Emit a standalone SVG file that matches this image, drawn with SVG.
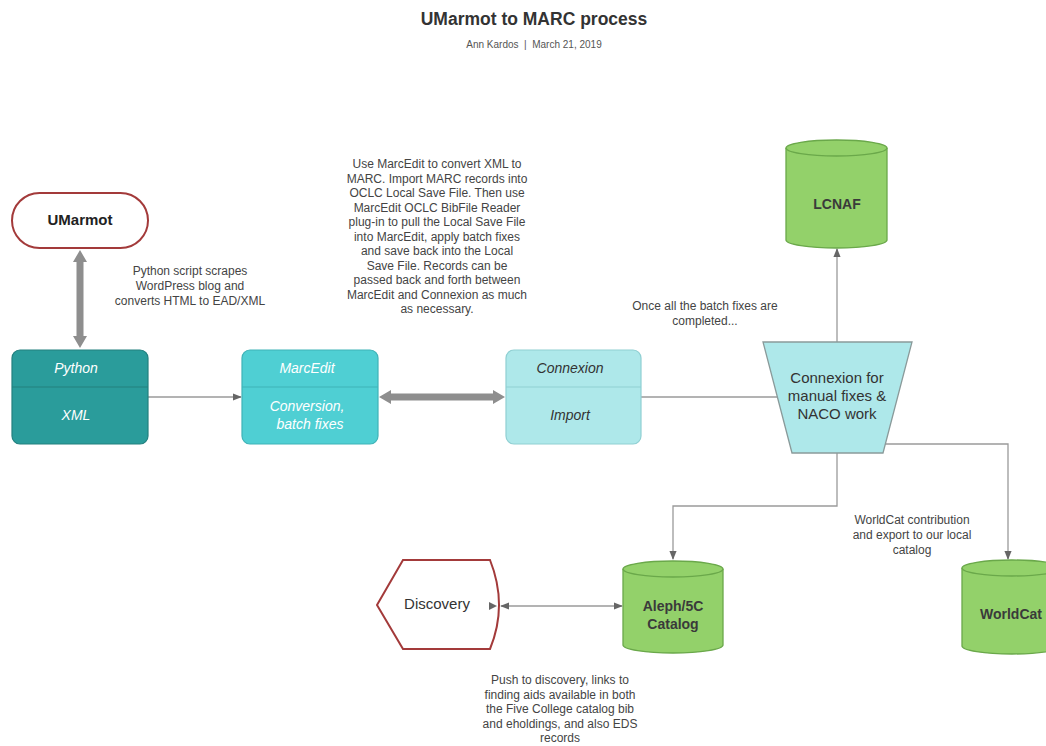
<svg xmlns="http://www.w3.org/2000/svg" width="1046" height="746" viewBox="0 0 1046 746">
<style>
text{font-family:"Liberation Sans",Arial,sans-serif;text-anchor:middle}
.title{font-size:17.5px;font-weight:bold;fill:#333}
.sub{font-size:10px;fill:#555}
.note{font-size:12px;fill:#444}
.lbl{font-size:14px;fill:#fff;font-style:italic}
.dk{fill:#333}
.bold{font-weight:bold;font-size:14px;fill:#3a3a3a}
.conn{fill:none;stroke:#9a9a9a;stroke-width:1.3}
.thick{fill:#8e8e8e}
.cyl{fill:#93d16a;stroke:#6aa84a;stroke-width:1.3}
.red{fill:#fff;stroke:#a33a3a;stroke-width:2}
.big{font-size:15px;fill:#333}
</style>
<defs>
<marker id="ah" viewBox="0 0 10 10" refX="9" refY="5" markerWidth="9" markerHeight="9" markerUnits="userSpaceOnUse" orient="auto-start-reverse">
<path d="M0,1 L10,5 L0,9 z" fill="#666"/>
</marker>
</defs>

<text class="title" x="534" y="25">UMarmot to MARC process</text>
<text class="sub" x="534" y="48" xml:space="preserve">Ann Kardos  |  March 21, 2019</text>

<g id="connectors">
<path class="thick" d="M80,250 L87,262 L83.5,262 L83.5,336 L87,336 L80,348 L73,336 L76.5,336 L76.5,262 L73,262 Z"/>
<path class="conn" d="M148,397 L241,397" marker-end="url(#ah)"/>
<path class="thick" d="M379,397 L391,390 L391,393.5 L493,393.5 L493,390 L505,397 L493,404 L493,400.5 L391,400.5 L391,404 Z"/>
<path class="conn" d="M641,397 L778,397"/>
<path class="conn" d="M837,342 L837,249" marker-end="url(#ah)"/>
<path class="conn" d="M837,453 L837,506 L673,506 L673,559" marker-end="url(#ah)"/>
<path class="conn" d="M884,444 L1008,444 L1008,559" marker-end="url(#ah)"/>
<path class="conn" d="M622,606 L501,606" marker-start="url(#ah)" marker-end="url(#ah)"/>
</g>

<g id="umarmot">
<rect class="red" x="12" y="193" width="136" height="55" rx="27.5"/>
<text class="bold" x="80" y="225" style="font-size:15px;fill:#222">UMarmot</text>
</g>

<g id="note-python">
<text class="note" x="190" y="275">Python script scrapes</text>
<text class="note" x="190" y="290">WordPress blog and</text>
<text class="note" x="190" y="305">converts HTML to EAD/XML</text>
</g>

<g id="python">
<rect x="12" y="350" width="136" height="94" rx="8" fill="#2a9c9b" stroke="#23807f" stroke-width="1.2"/>
<line x1="12" y1="387" x2="148" y2="387" stroke="#23807f" stroke-width="1.2"/>
<text class="lbl" x="76" y="373">Python</text>
<text class="lbl" x="76" y="420">XML</text>
</g>

<g id="marcedit">
<rect x="242" y="350" width="136" height="94" rx="8" fill="#4fcfd3" stroke="#3fb3b7" stroke-width="1.2"/>
<line x1="242" y1="387" x2="378" y2="387" stroke="#3fb3b7" stroke-width="1.2"/>
<text class="lbl" x="307" y="373">MarcEdit</text>
<text class="lbl" x="307" y="411">Conversion,</text>
<text class="lbl" x="310" y="429">batch fixes</text>
</g>

<g id="note-marcedit">
<text class="note" x="437" y="168">Use MarcEdit to convert XML to</text>
<text class="note" x="437" y="182.5">MARC. Import MARC records into</text>
<text class="note" x="437" y="197">OCLC Local Save File. Then use</text>
<text class="note" x="437" y="211.5">MarcEdit OCLC BibFile Reader</text>
<text class="note" x="437" y="226">plug-in to pull the Local Save File</text>
<text class="note" x="437" y="240.5">into MarcEdit, apply batch fixes</text>
<text class="note" x="437" y="255">and save back into the Local</text>
<text class="note" x="437" y="269.5">Save File. Records can be</text>
<text class="note" x="437" y="284">passed back and forth between</text>
<text class="note" x="437" y="298.5">MarcEdit and Connexion as much</text>
<text class="note" x="437" y="313">as necessary.</text>
</g>

<g id="connexion">
<rect x="506" y="350" width="135" height="94" rx="8" fill="#aee8ea" stroke="#8fcfd2" stroke-width="1.2"/>
<line x1="506" y1="387" x2="641" y2="387" stroke="#8fcfd2" stroke-width="1.2"/>
<text class="lbl dk" x="570" y="373">Connexion</text>
<text class="lbl dk" x="570" y="420">Import</text>
</g>

<g id="note-once">
<text class="note" x="705" y="310">Once all the batch fixes are</text>
<text class="note" x="705" y="325">completed...</text>
</g>

<g id="connexion-naco">
<path d="M763,342 L912,342 L883,453 L792,453 Z" fill="#aee8ea" stroke="#8a9a9a" stroke-width="1.3"/>
<text class="big" x="837" y="383">Connexion for</text>
<text class="big" x="837" y="401">manual fixes &amp;</text>
<text class="big" x="837" y="419">NACO work</text>
</g>

<g id="lcnaf">
<path class="cyl" d="M786,148 A50.5,8 0 0 1 887,148 L887,240 A50.5,8 0 0 1 786,240 Z"/>
<path d="M786,148 A50.5,8 0 0 0 887,148" fill="none" stroke="#6aa84a" stroke-width="1.3"/>
<text class="bold" x="837" y="209">LCNAF</text>
</g>

<g id="aleph">
<path class="cyl" d="M623,569 A50,8 0 0 1 723,569 L723,645 A50,8 0 0 1 623,645 Z"/>
<path d="M623,569 A50,8 0 0 0 723,569" fill="none" stroke="#6aa84a" stroke-width="1.3"/>
<text class="bold" x="673" y="611">Aleph/5C</text>
<text class="bold" x="673" y="629">Catalog</text>
</g>

<g id="worldcat">
<path class="cyl" d="M962,568 A50,8 0 0 1 1062,568 L1062,646 A50,8 0 0 1 962,646 Z"/>
<path d="M962,568 A50,8 0 0 0 1062,568" fill="none" stroke="#6aa84a" stroke-width="1.3"/>
<text class="bold" x="1011" y="619">WorldCat</text>
</g>

<g id="note-worldcat">
<text class="note" x="912" y="524">WorldCat contribution</text>
<text class="note" x="912" y="539">and export to our local</text>
<text class="note" x="912" y="554">catalog</text>
</g>

<g id="discovery">
<path class="red" d="M377,605 L403,560 L490,560 Q508,605 490,649 L403,649 Z"/>
<text class="big" x="437" y="609">Discovery</text>
<path d="M489,602 L497,606 L489,610 z" fill="#666"/>
</g>

<g id="note-discovery">
<text class="note" x="560" y="684">Push to discovery, links to</text>
<text class="note" x="560" y="698.5">finding aids available in both</text>
<text class="note" x="560" y="713">the Five College catalog bib</text>
<text class="note" x="560" y="727.5">and eholdings, and also EDS</text>
<text class="note" x="560" y="742">records</text>
</g>
</svg>
